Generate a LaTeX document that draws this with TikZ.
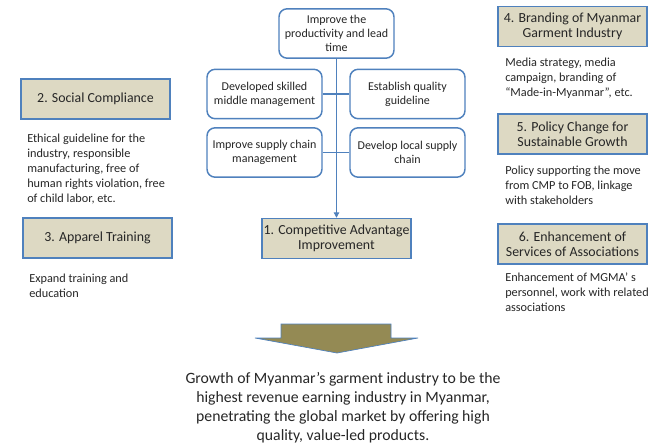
\documentclass[tikz,border=0pt]{standalone}
\usepackage{fontspec}
\setmainfont{Carlito}
\usetikzlibrary{arrows.meta, positioning}

\definecolor{lineblue}{HTML}{4F81BD}
\definecolor{goaltan}{HTML}{DDD9C3}
\definecolor{arrowolive}{HTML}{948A54}
\definecolor{txtgray}{HTML}{262626}

\begin{document}
\begin{tikzpicture}[
  x=0.75pt, y=-0.75pt,
  every node/.style={text=txtgray},
  goal/.style={draw=lineblue, line width=1.1pt, fill=goaltan, minimum width=111.75pt,
               minimum height=30pt, inner sep=1pt, align=center,
               font=\fontsize{10.4}{11.5}\selectfont},
  task/.style={draw=lineblue, line width=1.1pt, fill=white, rounded corners=6pt,
               minimum width=86.25pt, minimum height=37pt, inner sep=1pt, align=center,
               font=\fontsize{9}{10.6}\selectfont},
  note/.style={anchor=north west, inner sep=0pt, align=left,
               font=\fontsize{9.2}{11.25}\selectfont},
  link/.style={draw=lineblue, line width=0.8pt},
  arr/.style={link, -{Triangle[length=4pt, width=4pt]}}
]
\useasboundingbox (0,0) rectangle (657,444);

% central column
\node[task] (prod)    at (336.5, 33.5)  {Improve the\\productivity and lead\\time};
\node[task] (skilled) at (264.5, 94)    {Developed skilled\\middle management};
\node[task] (quality) at (407.5, 94)    {Establish quality\\guideline};
\node[task] (supply)  at (264.5, 152.5) {Improve supply chain\\management};
\node[task] (local)   at (407.5, 152.5) {Develop local supply\\chain};
\node[goal] (compet)  at (336.5, 238.5) {1. Competitive Advantage\\Improvement};

\draw[link] (skilled) -- (quality);
\draw[link] (supply)  -- (local);
\draw[arr]  (prod)    -- (compet);

% left column
\node[goal] (social)  at (95.5, 99)  {2. Social Compliance};
\node[note] (socialtxt) at (27, 134) {Ethical guideline for the\\industry, responsible\\manufacturing, free of\\human rights violation, free\\of child labor, etc.};
\node[goal] (apparel) at (97.5, 238) {3. Apparel Training};
\node[note] (appareltxt) at (29, 274) {Expand training and\\education};

% right column
\node[goal] (brand)   at (572.5, 26.5) {4. Branding of Myanmar\\Garment Industry};
\node[note] (brandtxt) at (505, 58) {Media strategy, media\\campaign, branding of\\``Made-in-Myanmar'', etc.};
\node[goal] (policy)  at (572.5, 134) {5. Policy Change for\\Sustainable Growth};
\node[note] (policytxt) at (505, 166) {Policy supporting the move\\from CMP to FOB, linkage\\with stakeholders};
\node[goal] (assoc)   at (572.5, 244) {6. Enhancement of\\Services of Associations};
\node[note] (assoctxt) at (505, 273) {Enhancement of MGMA' s\\personnel, work with related\\associations};

% big arrow and vision
\filldraw[fill=arrowolive, draw=lineblue, line width=0.5pt]
  (281,324) -- (391,324) -- (391,338) -- (418,338) -- (337,353)
  -- (255,338) -- (281,338) -- cycle;
\node[anchor=north, inner sep=0pt, align=center, font=\fontsize{11.8}{14.25}\selectfont]
  (vision) at (343, 372) {Growth of Myanmar's garment industry to be the\\highest revenue earning industry in Myanmar,\\penetrating the global market by offering high\\quality, value-led products.};
\end{tikzpicture}
\end{document}
